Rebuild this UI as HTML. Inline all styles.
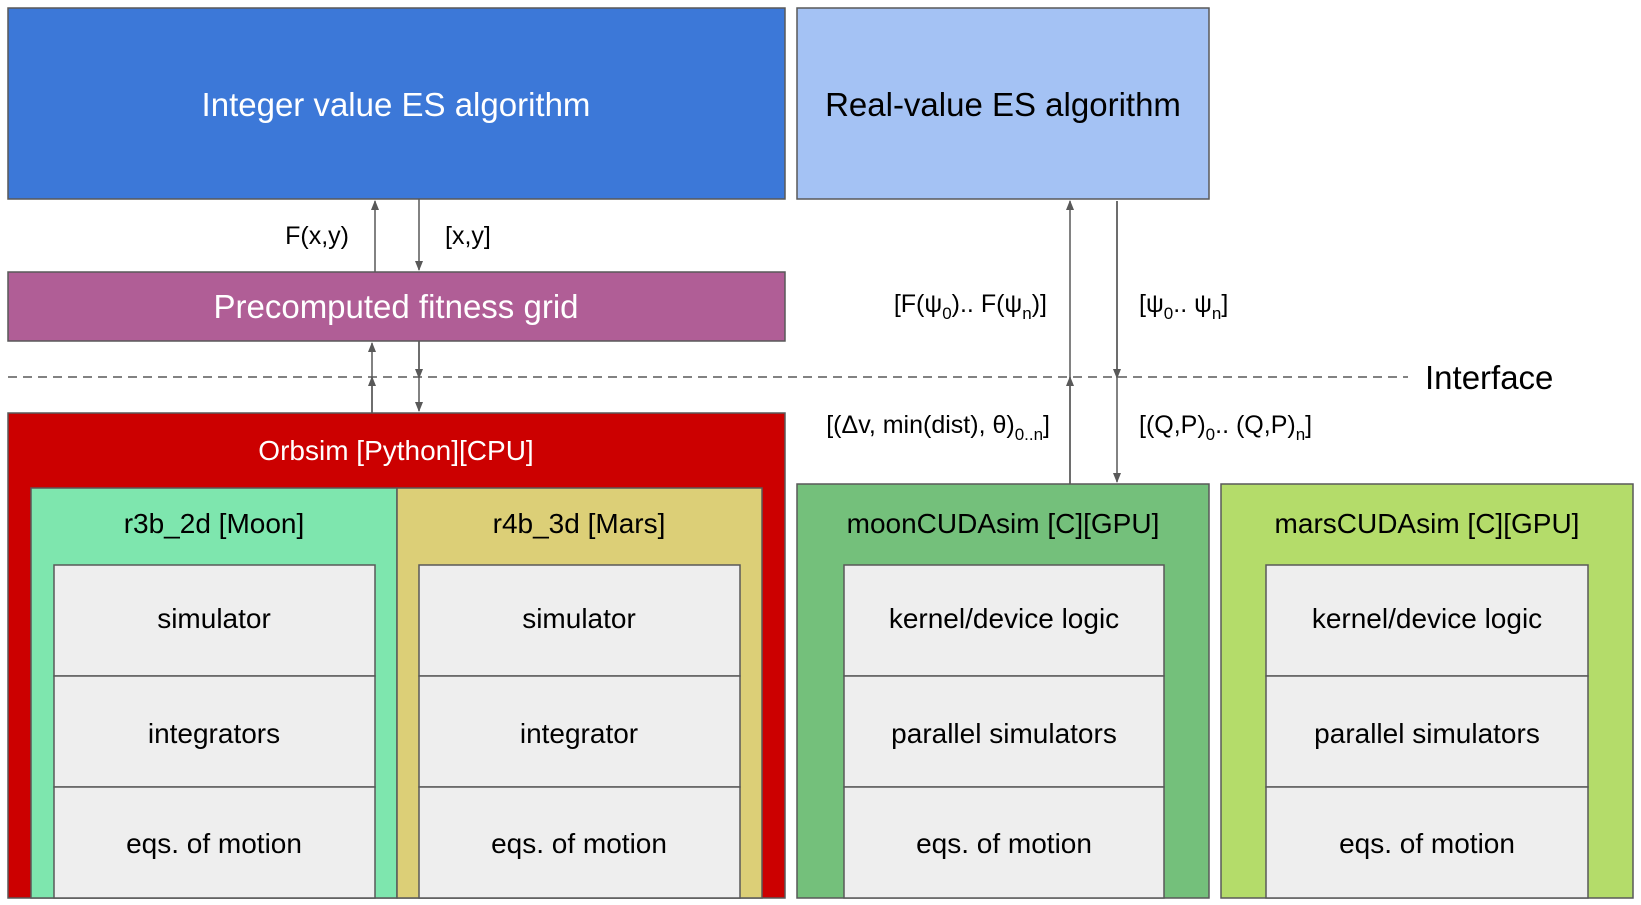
<!DOCTYPE html>
<html><head><meta charset="utf-8"><style>
html,body{margin:0;padding:0;background:#fff;}
svg{display:block;font-family:"Liberation Sans",sans-serif;}
</style></head><body>
<svg width="1641" height="905" viewBox="0 0 1641 905" xmlns="http://www.w3.org/2000/svg">
<defs>
<marker id="a" markerWidth="10" markerHeight="10" refX="9" refY="5" orient="auto" markerUnits="userSpaceOnUse">
<path d="M0,1 L10,5 L0,9 z" fill="#595959"/></marker>
</defs>
<g stroke="#595959" stroke-width="1.5">
<rect x="8" y="8" width="777" height="191" fill="#3c78d8"/>
<rect x="797" y="8" width="412" height="191" fill="#a4c2f4"/>
<rect x="8" y="272" width="777" height="69" fill="#b05e96"/>
<rect x="8" y="413" width="777" height="485" fill="#cc0000"/>
<rect x="31" y="488" width="366" height="410" fill="#7ee6ae"/>
<rect x="397" y="488" width="365" height="410" fill="#dccf77"/>
<rect x="797" y="484" width="412" height="414" fill="#74c07b"/>
<rect x="1221" y="484" width="412" height="414" fill="#b4dc6a"/>
<g fill="#eeeeee">
<rect x="54" y="565" width="321" height="111"/><rect x="54" y="676" width="321" height="111"/><rect x="54" y="787" width="321" height="111"/>
<rect x="419" y="565" width="321" height="111"/><rect x="419" y="676" width="321" height="111"/><rect x="419" y="787" width="321" height="111"/>
<rect x="844" y="565" width="320" height="111"/><rect x="844" y="676" width="320" height="111"/><rect x="844" y="787" width="320" height="111"/>
<rect x="1266" y="565" width="322" height="111"/><rect x="1266" y="676" width="322" height="111"/><rect x="1266" y="787" width="322" height="111"/>
</g>
<line x1="8" y1="377" x2="1408" y2="377" stroke-dasharray="9,6"/>
<line x1="375" y1="272" x2="375" y2="201" marker-end="url(#a)"/>
<line x1="419" y1="199" x2="419" y2="270" marker-end="url(#a)"/>
<line x1="372" y1="413" x2="372" y2="343" marker-end="url(#a)"/>
<line x1="372" y1="413" x2="372" y2="377" marker-end="url(#a)"/>
<line x1="419" y1="341" x2="419" y2="411" marker-end="url(#a)"/>
<line x1="419" y1="341" x2="419" y2="378" marker-end="url(#a)"/>
<line x1="1070" y1="484" x2="1070" y2="201" marker-end="url(#a)"/>
<line x1="1070" y1="484" x2="1070" y2="377" marker-end="url(#a)"/>
<line x1="1117" y1="201" x2="1117" y2="482" marker-end="url(#a)"/>
<line x1="1117" y1="201" x2="1117" y2="378" marker-end="url(#a)"/>
</g>
<g text-anchor="middle" fill="#fff">
<text x="396" y="116" font-size="33">Integer value ES algorithm</text>
<text x="396" y="318" font-size="33">Precomputed fitness grid</text>
<text x="396" y="460" font-size="28">Orbsim [Python][CPU]</text>
</g>
<g text-anchor="middle" fill="#000" font-size="28">
<text x="1003" y="116" font-size="33">Real-value ES algorithm</text>
<text x="214" y="533">r3b_2d [Moon]</text>
<text x="579" y="533">r4b_3d [Mars]</text>
<text x="1003" y="533">moonCUDAsim [C][GPU]</text>
<text x="1427" y="533">marsCUDAsim [C][GPU]</text>
<text x="214" y="628">simulator</text><text x="214" y="743">integrators</text><text x="214" y="853">eqs. of motion</text>
<text x="579" y="628">simulator</text><text x="579" y="743">integrator</text><text x="579" y="853">eqs. of motion</text>
<text x="1004" y="628">kernel/device logic</text><text x="1004" y="743">parallel simulators</text><text x="1004" y="853">eqs. of motion</text>
<text x="1427" y="628">kernel/device logic</text><text x="1427" y="743">parallel simulators</text><text x="1427" y="853">eqs. of motion</text>
</g>
<g fill="#000" font-size="25">
<text x="349" y="244" text-anchor="end">F(x,y)</text>
<text x="445" y="244">[x,y]</text>
<text x="1047" y="312" text-anchor="end">[F(ψ<tspan font-size="17" dy="7">0</tspan><tspan dy="-7">).. F(ψ</tspan><tspan font-size="17" dy="7">n</tspan><tspan dy="-7">)]</tspan></text>
<text x="1139" y="312">[ψ<tspan font-size="17" dy="7">0</tspan><tspan dy="-7">.. ψ</tspan><tspan font-size="17" dy="7">n</tspan><tspan dy="-7">]</tspan></text>
<text x="1050" y="433" text-anchor="end">[(Δv, min(dist), θ)<tspan font-size="17" dy="7">0..n</tspan><tspan dy="-7">]</tspan></text>
<text x="1139" y="433">[(Q,P)<tspan font-size="17" dy="7">0</tspan><tspan dy="-7">.. (Q,P)</tspan><tspan font-size="17" dy="7">n</tspan><tspan dy="-7">]</tspan></text>
<text x="1425" y="389" font-size="33">Interface</text>
</g>
</svg>
</body></html>
